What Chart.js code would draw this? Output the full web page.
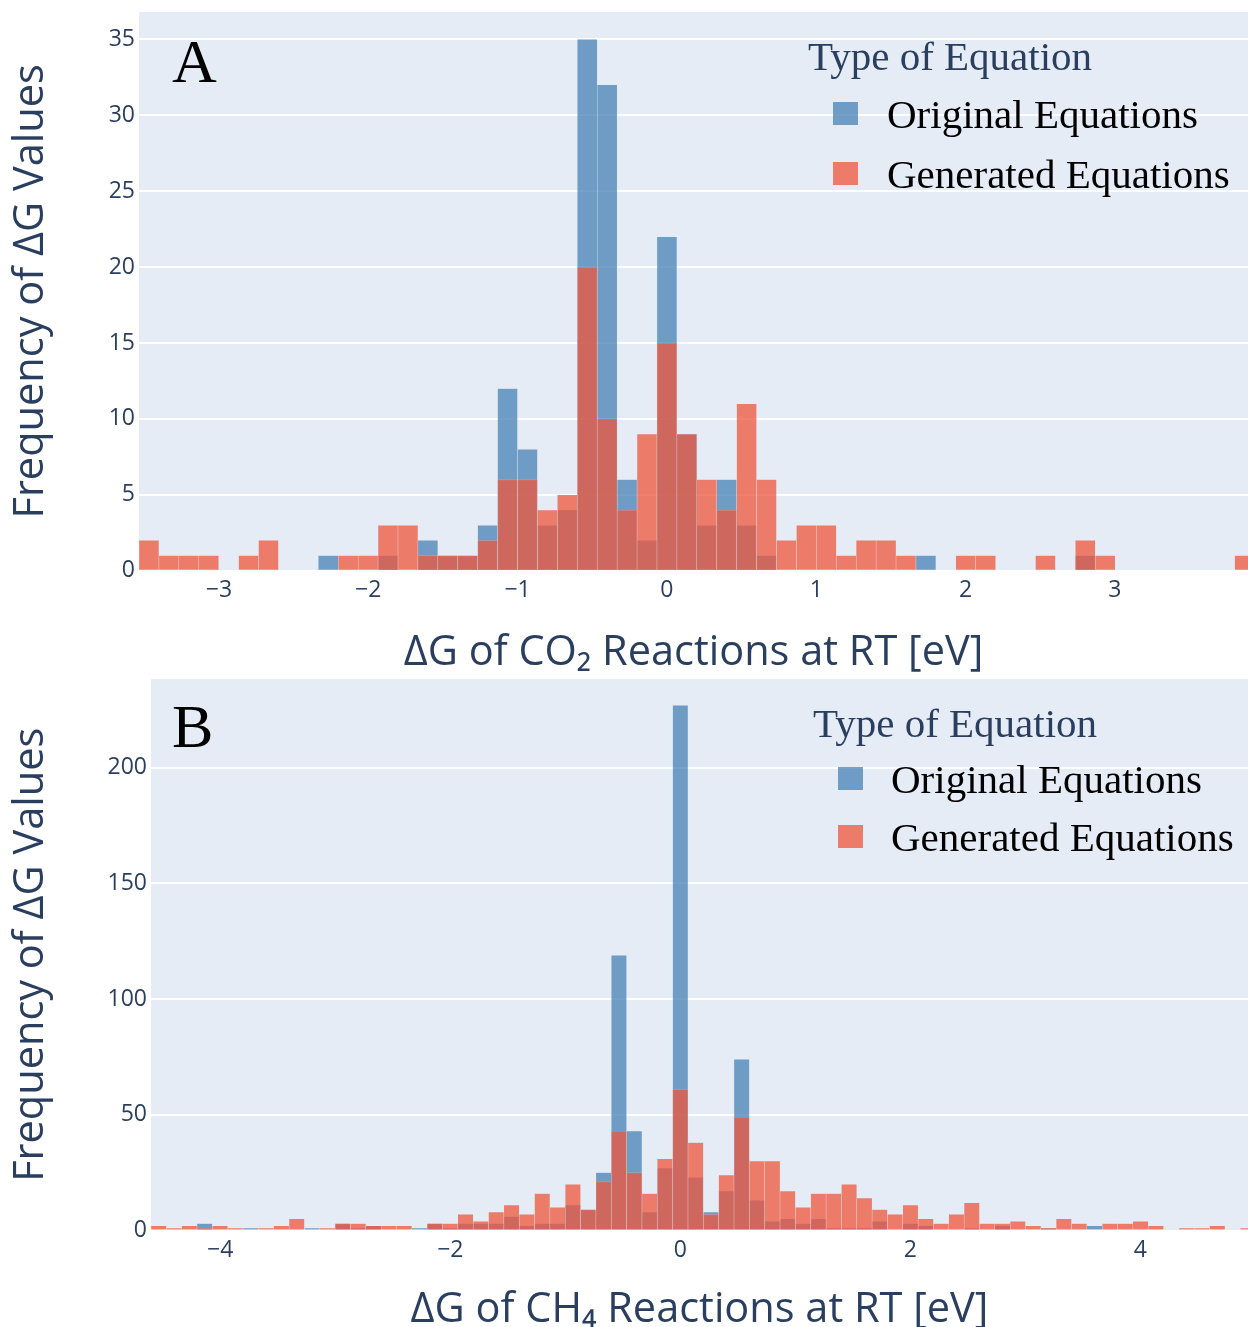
<!DOCTYPE html>
<html>
<head>
<meta charset="utf-8">
<script src="https://cdn.jsdelivr.net/npm/chart.js@4.4.1/dist/chart.umd.min.js"></script>
<style>
  html, body { margin: 0; padding: 0; background: #fff; }
  #wrap { position: relative; width: 1248px; height: 1327px; overflow: hidden; }
  .panel { position: absolute; left: 0; width: 1248px; }
  #panelA { top: 0; height: 672px; }
  #panelB { top: 672px; height: 655px; }
</style>
</head>
<body>
<div id="wrap">
  <div class="panel" id="panelA"><canvas id="chartA"></canvas></div>
  <div class="panel" id="panelB"><canvas id="chartB"></canvas></div>
</div>
<script>
// histogram bins (same bin width in both panels, bins centred on multiples of it)
var binWidth = 0.1334;
var seriesNames = ["Original Equations", "Generated Equations"];
var legendTitle = "Type of Equation";

// panel A - CO2, first bin index -26
var co2FirstBin = -26;
var co2Original = [0,0,0,0,0,0,0,0,0,1, 0,0,1,0,2,1,1,3,12,8, 3,4,35,32,6,2,22,9,3,6,
                   3,1,0,0,0,0,0,0,0,1, 0,0,0,0,0,0,0,1,0,0, 0,0,0,0,0,0];
var co2Generated = [2,1,1,1,0,1,2,0,0,0, 1,1,3,3,1,1,1,2,6,6, 4,5,20,10,4,9,15,9,6,4,
                    11,6,2,3,3,1,2,2,1,0, 0,1,1,0,0,1,0,2,1,0, 0,0,0,0,0,1];
var co2XTicks = [-3, -2, -1, 0, 1, 2, 3];
var co2YTicks = [0, 5, 10, 15, 20, 25, 30, 35];

// panel B - CH4, first bin index -34
var ch4FirstBin = -34;
var ch4Original = [0,0,0,3,0,0,1,0,0,0, 1,0,3,1,2,0,0,1,3,1, 3,3,3,6,2,3,3,11,9,25,
                   119,43,8,27,227,23,8,17,74,13, 4,5,3,5,1,1,1,4,0,3,
                   2,0,0,1,0,2,0,0,1,0, 0,2,0,0,0,0,0,0,0,0, 0,0];
var ch4Generated = [2,1,2,1,2,1,0,1,2,5, 0,1,3,3,2,2,2,0,3,3, 7,4,8,11,7,16,10,20,9,21,
                    43,25,16,31,61,38,7,24,49,30, 30,17,10,16,16,20,14,9,7,11,
                    5,3,7,12,3,3,4,2,1,5, 3,0,3,3,4,2,0,1,1,2, 0,1];
var ch4XTicks = [-4, -2, 0, 2, 4];
var ch4YTicks = [0, 50, 100, 150, 200];

var blue = "rgba(70,130,180,0.75)";
var red = "rgba(239,85,59,0.75)";
var ink = "#2a3f5f";

Chart.defaults.font.family = "'Open Sans', sans-serif";

function binPoints(first, counts) {
  return counts.map(function (c, i) { return { x: (first + i) * binWidth, y: c }; });
}

function minusSign(v) {
  return v < 0 ? "\u2212" + Math.abs(v) : String(v);
}

var panelDecor = {
  id: "panelDecor",
  beforeDraw: function (chart) {
    var a = chart.chartArea, ctx = chart.ctx;
    ctx.save();
    ctx.fillStyle = "#E5ECF6";
    ctx.fillRect(a.left, a.top, a.right - a.left, a.bottom - a.top);
    ctx.restore();
  },
  afterDraw: function (chart, args, o) {
    var a = chart.chartArea, ctx = chart.ctx;
    ctx.save();
    ctx.textAlign = "left";
    ctx.textBaseline = "alphabetic";
    ctx.fillStyle = "#000";
    ctx.font = "62px 'Liberation Serif'";
    ctx.fillText(o.letter, a.left + o.letterX, a.top + o.letterY);
    ctx.fillStyle = ink;
    ctx.font = "41px 'Liberation Serif'";
    ctx.fillText(legendTitle, a.left + o.titleX, a.top + o.titleY);
    chart.data.datasets.forEach(function (ds, i) {
      var y = a.top + o.itemY + i * o.itemGap;
      ctx.fillStyle = ds.backgroundColor;
      ctx.fillRect(a.left + o.boxX, y - 26, 25, 23);
      ctx.fillStyle = "#000";
      ctx.fillText(ds.label, a.left + o.textX, y);
    });
    ctx.restore();
  }
};

function makeChart(id, cfg) {
  return new Chart(id, {
    type: "bar",
    data: {
      datasets: [{
        label: seriesNames[0],
        data: binPoints(cfg.firstBin, cfg.original),
        backgroundColor: blue,
        borderColor: "rgba(229,236,246,0.35)",
        borderWidth: 0.5,
        order: 2
      }, {
        label: seriesNames[1],
        data: binPoints(cfg.firstBin, cfg.generated),
        backgroundColor: red,
        borderColor: "rgba(229,236,246,0.35)",
        borderWidth: 0.5,
        order: 1
      }]
    },
    options: {
      responsive: true,
      maintainAspectRatio: false,
      animation: false,
      grouped: false,
      barPercentage: 1,
      categoryPercentage: 1,
      layout: { padding: { top: cfg.padTop, right: 0, bottom: 0, left: 0 } },
      plugins: {
        legend: { display: false },
        tooltip: { enabled: false },
        panelDecor: cfg.decor
      },
      scales: {
        x: {
          type: "linear",
          offset: false,
          min: cfg.xMin,
          max: cfg.xMax,
          afterBuildTicks: function (s) { s.ticks = cfg.xTicks.map(function (v) { return { value: v }; }); },
          afterFit: function (s) { s.height = cfg.xHeight; s.paddingLeft = 0; s.paddingRight = 0; },
          grid: { display: false, drawTicks: false, offset: false },
          border: { display: false },
          ticks: { color: ink, font: { size: 23 }, padding: 6, maxRotation: 0, autoSkip: false,
                   callback: function (v) { return minusSign(v); } },
          title: { display: true, text: cfg.xTitle, color: ink,
                   font: { size: 41.5, lineHeight: 0.92 }, padding: { top: 0, bottom: cfg.xTitlePad } }
        },
        y: {
          min: 0,
          max: cfg.yMax,
          afterBuildTicks: function (s) { s.ticks = cfg.yTicks.map(function (v) { return { value: v }; }); },
          afterFit: function (s) { s.width = cfg.yWidth; s.paddingTop = 0; s.paddingBottom = 0; },
          grid: { color: "#ffffff", lineWidth: 2, drawTicks: false },
          border: { display: false },
          ticks: { color: ink, font: { size: 23 }, padding: 4 },
          title: { display: true, text: "Frequency of \u0394G Values", color: ink,
                   font: { size: 41.5, lineHeight: 0.92 }, padding: { top: 12, bottom: 0 } }
        }
      }
    },
    plugins: [panelDecor]
  });
}

makeChart("chartA", {
  firstBin: co2FirstBin, original: co2Original, generated: co2Generated,
  xTicks: co2XTicks, yTicks: co2YTicks,
  xMin: -26.5 * binWidth, xMax: 3.891, yMax: 36.8,
  padTop: 12, yWidth: 139, xHeight: 101.2, xTitlePad: 0,
  xTitle: "\u0394G of CO\u2082 Reactions at RT [eV]",
  decor: { letter: "A", letterX: 33, letterY: 70, titleX: 669, titleY: 58,
           boxX: 694, textX: 748, itemY: 116, itemGap: 60 }
});

makeChart("chartB", {
  firstBin: ch4FirstBin, original: ch4Original, generated: ch4Generated,
  xTicks: ch4XTicks, yTicks: ch4YTicks,
  xMin: -34.5 * binWidth, xMax: 4.936, yMax: 238.4,
  padTop: 7, yWidth: 151, xHeight: 96.5, xTitlePad: -2,
  xTitle: "\u0394G of CH\u2084 Reactions at RT [eV]",
  decor: { letter: "B", letterX: 21, letterY: 68, titleX: 662, titleY: 58,
           boxX: 687, textX: 740, itemY: 114, itemGap: 58 }
});
</script>
</body>
</html>
